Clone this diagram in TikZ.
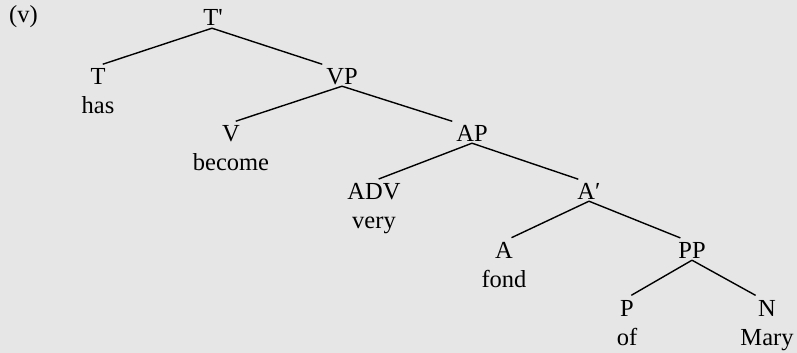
\documentclass[tikz,border=0pt]{standalone}
\usepackage{fontspec}
\setmainfont{Liberation Serif}
\usetikzlibrary{positioning}
\definecolor{bgray}{RGB}{230,230,230}

\begin{document}
\begin{tikzpicture}[x=1pt, y=-1pt, node distance={29pt},
    cat/.style = {font=\fontsize{24.5}{29}\selectfont, inner sep=2pt, text height=16pt, text depth=0pt, anchor=base},
    word/.style = {font=\fontsize{24.5}{29}\selectfont, inner sep=2pt, text height=16pt, text depth=0pt},
    branch/.style = {line width=1.4pt, shorten >=5pt}]
            \fill[bgray] (0,0) rectangle (797,353);
            \useasboundingbox (0,0) rectangle (797,353);
            \node[cat, anchor=base west] (ex) at (7,23) {(v)};
            \node[cat] (tb) at (213,26) {T\textquotesingle};
            \node[cat] (t) at (98,84) {T};
            \node[cat] (vp) at (342,84) {VP};
            \node[cat] (v) at (231,141) {V};
            \node[cat] (ap) at (472,141) {AP};
            \node[cat] (adv) at (374,199) {ADV};
            \node[cat] (ab) at (589,199) {A′};
            \node[cat] (a) at (504,258) {A};
            \node[cat] (pp) at (692,258) {PP};
            \node[cat] (p) at (627,316) {P};
            \node[cat] (n) at (767,316) {N};
            \node[word] (has) [below of=t] {has};
            \node[word] (become) [below of=v] {become};
            \node[word] (very) [below of=adv] {very};
            \node[word] (fond) [below of=a] {fond};
            \node[word] (of) [below of=p] {of};
            \node[word] (mary) [below of=n] {Mary};
            \draw[branch] ([xshift=-1pt]tb.south) -- (t.north);
            \draw[branch] ([xshift=-1pt]tb.south) -- ([xshift=-15pt]vp.north);
            \draw[branch] (vp.south) -- (v.north);
            \draw[branch] (vp.south) -- ([xshift=-15pt]ap.north);
            \draw[branch] (ap.south) -- (adv.north);
            \draw[branch] (ap.south) -- ([xshift=-6pt]ab.north);
            \draw[branch] (ab.south) -- ([xshift=3pt]a.north);
            \draw[branch] (ab.south) -- ([xshift=-7pt]pp.north);
            \draw[branch] (pp.south) -- (p.north);
            \draw[branch] (pp.south) -- ([xshift=-7pt]n.north);
        \end{tikzpicture}
\end{document}
